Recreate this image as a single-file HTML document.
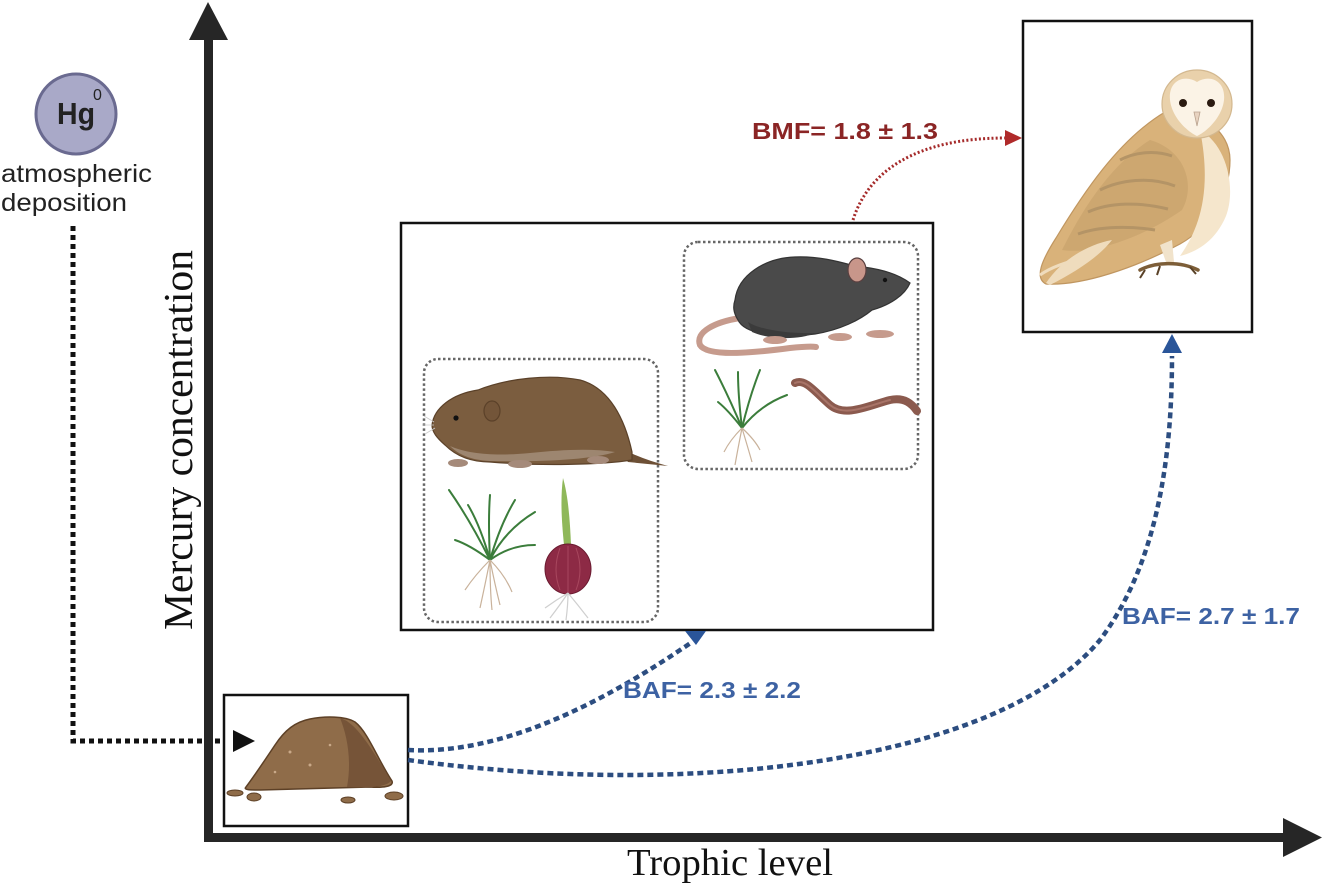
<!DOCTYPE html>
<html>
<head>
<meta charset="utf-8">
<style>
  html,body{margin:0;padding:0;background:#fff;}
  svg{display:block;}
</style>
</head>
<body>
<svg width="1324" height="886" viewBox="0 0 1324 886" xmlns="http://www.w3.org/2000/svg">
  <rect x="0" y="0" width="1324" height="886" fill="#ffffff"/>

  <!-- Hg circle -->
  <circle cx="76" cy="114" r="40" fill="#a9a9c8" stroke="#6a6a90" stroke-width="3"/>
  <text x="57" y="124" font-family="Liberation Sans, sans-serif" font-weight="bold" font-size="31" fill="#222" textLength="38" lengthAdjust="spacingAndGlyphs">Hg</text>
  <text x="93" y="100" font-family="Liberation Sans, sans-serif" font-size="16" fill="#222">0</text>
  <text x="1" y="182" font-family="Liberation Sans, sans-serif" font-size="25" fill="#222" textLength="151" lengthAdjust="spacingAndGlyphs">atmospheric</text>
  <text x="1" y="211" font-family="Liberation Sans, sans-serif" font-size="25" fill="#222" textLength="126" lengthAdjust="spacingAndGlyphs">deposition</text>

  <!-- black dotted connector -->
  <path d="M73,226 L73,741 L230,741" fill="none" stroke="#111" stroke-width="5" stroke-dasharray="5 4"/>

  <!-- Axes -->
  <line x1="208.5" y1="38" x2="208.5" y2="842" stroke="#262626" stroke-width="9"/>
  <polygon points="208,2 189,40 228,40" fill="#262626"/>
  <line x1="204" y1="837.5" x2="1286" y2="837.5" stroke="#262626" stroke-width="9"/>
  <polygon points="1283,818 1283,857 1322,837.5" fill="#262626"/>

  <!-- axis labels -->
  <text transform="translate(192,440) rotate(-90)" text-anchor="middle" font-family="Liberation Serif, serif" font-size="41" fill="#111" textLength="380" lengthAdjust="spacingAndGlyphs">Mercury concentration</text>
  <text x="627" y="875" font-family="Liberation Serif, serif" font-size="38" fill="#111" textLength="206" lengthAdjust="spacingAndGlyphs">Trophic level</text>

  <!-- Soil box -->
  <rect x="224" y="695" width="184" height="131" fill="#fff" stroke="#111" stroke-width="2.5"/>
  <polygon points="233,730 233,752 255,741" fill="#111"/>
  <!-- soil pile -->
  <path d="M246,787 C255,775 265,760 275,745 C285,730 295,722 310,719 C325,716 345,716 355,722 C368,732 378,760 392,781 C394,786 385,788 370,787 L260,790 C250,790 243,790 246,787 Z" fill="#8f6c49" stroke="#5d4026" stroke-width="1.5"/>
  <path d="M340,718 C355,722 370,745 391,781 C386,787 370,788 347,787 C352,760 347,735 340,718 Z" fill="#765438"/>
  <circle cx="290" cy="752" r="1.5" fill="#c9a989"/>
  <circle cx="310" cy="765" r="1.5" fill="#c9a989"/>
  <circle cx="275" cy="772" r="1.3" fill="#c9a989"/>
  <circle cx="330" cy="745" r="1.3" fill="#c9a989"/>
  <ellipse cx="235" cy="793" rx="8" ry="3" fill="#8f6c49" stroke="#5d4026" stroke-width="1"/>
  <ellipse cx="254" cy="797" rx="7" ry="4" fill="#8f6c49" stroke="#5d4026" stroke-width="1"/>
  <ellipse cx="348" cy="800" rx="7" ry="3" fill="#8f6c49" stroke="#5d4026" stroke-width="1"/>
  <ellipse cx="394" cy="796" rx="9" ry="4" fill="#8f6c49" stroke="#5d4026" stroke-width="1"/>

  <!-- Middle box -->
  <rect x="401" y="223" width="532" height="407" fill="#fff" stroke="#111" stroke-width="2.5"/>
  <rect x="424" y="359" width="234" height="263" rx="14" fill="none" stroke="#666" stroke-width="2.5" stroke-dasharray="2.5 2.5"/>
  <rect x="684" y="242" width="234" height="227" rx="14" fill="none" stroke="#666" stroke-width="2.5" stroke-dasharray="2.5 2.5"/>

  <!-- Vole -->
  <path d="M608,440 C625,452 645,460 668,466 L628,462 Z" fill="#6d5036"/>
  <path d="M432,425 C434,408 452,394 478,390 C508,378 550,374 580,380 C610,388 625,420 632,452 L632,460 C600,465 540,466 490,462 C470,462 455,455 445,445 C437,438 432,432 432,425 Z" fill="#7b5d3f" stroke="#5b4129" stroke-width="1.2"/>
  <path d="M450,446 C470,455 500,456 530,453 C560,450 590,448 615,452 C590,460 540,462 490,461 C470,460 458,454 450,446 Z" fill="#9d8670"/>
  <ellipse cx="492" cy="411" rx="8" ry="10" fill="#735539" stroke="#5b4129" stroke-width="1.2"/>
  <circle cx="456" cy="418" r="2.6" fill="#111"/>
  <ellipse cx="458" cy="463" rx="10" ry="4" fill="#a58a7a"/>
  <ellipse cx="520" cy="464" rx="12" ry="4" fill="#a58a7a"/>
  <ellipse cx="598" cy="460" rx="11" ry="4" fill="#a58a7a"/>
  <path d="M434,422 L424,416 M434,425 L423,425 M435,428 L425,434" stroke="#ccc" stroke-width="0.8"/>

  <!-- Left grass -->
  <g fill="none" stroke="#3b7d3b" stroke-width="2" stroke-linecap="round">
    <path d="M490,560 Q470,520 449,490"/>
    <path d="M490,560 Q480,525 468,505"/>
    <path d="M490,560 Q488,520 490,495"/>
    <path d="M490,560 Q500,525 515,500"/>
    <path d="M490,560 Q505,530 535,512"/>
    <path d="M490,560 Q510,545 535,545"/>
    <path d="M490,560 Q470,545 455,540"/>
  </g>
  <g fill="none" stroke="#c9b29b" stroke-width="1.2">
    <path d="M490,560 Q485,585 480,608"/>
    <path d="M490,560 Q495,585 500,605"/>
    <path d="M490,560 Q475,575 465,590"/>
    <path d="M490,560 Q505,575 512,592"/>
    <path d="M490,560 Q490,590 492,610"/>
  </g>
  <!-- Onion -->
  <path d="M563,478 C560,500 562,525 564,545 L571,545 C570,520 568,495 563,478 Z" fill="#8fb85a"/>
  <ellipse cx="568" cy="569" rx="23" ry="25" fill="#8d2a45" stroke="#6a1a30" stroke-width="1"/>
  <path d="M560,548 Q552,570 560,590 M576,548 Q584,570 576,590 M568,546 L568,593" stroke="#a8475e" stroke-width="1" fill="none"/>
  <g fill="none" stroke="#cfcfcf" stroke-width="1.2">
    <path d="M568,593 Q560,605 550,618"/>
    <path d="M568,593 Q568,605 566,620"/>
    <path d="M568,593 Q578,605 588,618"/>
    <path d="M568,593 Q556,600 545,608"/>
  </g>

  <!-- Mouse -->
  <path d="M740,318 C715,322 695,332 700,345 C708,358 760,352 790,348 C800,347 810,346 816,347" fill="none" stroke="#c69b8d" stroke-width="6" stroke-linecap="round"/>
  <path d="M735,300 C738,275 765,258 795,257 C820,256 840,262 855,266 C875,268 895,272 910,283 C905,295 890,305 872,310 C860,320 840,330 815,334 C780,338 745,335 738,320 C733,312 733,306 735,300 Z" fill="#4a4a4a" stroke="#333" stroke-width="1.2"/>
  <path d="M748,322 C760,330 790,334 815,333 C800,340 770,340 752,332 Z" fill="#3b3b3b"/>
  <ellipse cx="857" cy="270" rx="9" ry="12" fill="#c8968a" stroke="#5a4040" stroke-width="1.2"/>
  <circle cx="885" cy="280" r="2.2" fill="#111"/>
  <ellipse cx="880" cy="334" rx="14" ry="4" fill="#c69b8d"/>
  <ellipse cx="840" cy="337" rx="12" ry="4" fill="#c69b8d"/>
  <ellipse cx="775" cy="340" rx="12" ry="4" fill="#c69b8d"/>
  <!-- Right grass -->
  <g fill="none" stroke="#3b7d3b" stroke-width="2" stroke-linecap="round">
    <path d="M742,428 Q728,395 715,370"/>
    <path d="M742,428 Q738,395 738,372"/>
    <path d="M742,428 Q750,395 760,370"/>
    <path d="M742,428 Q760,405 787,395"/>
    <path d="M742,428 Q728,410 718,402"/>
  </g>
  <g fill="none" stroke="#c9b29b" stroke-width="1.2">
    <path d="M742,428 Q738,448 735,465"/>
    <path d="M742,428 Q748,448 752,462"/>
    <path d="M742,428 Q730,440 724,452"/>
    <path d="M742,428 Q755,440 760,450"/>
  </g>
  <!-- Worm -->
  <path d="M795,383 C805,378 815,392 830,405 C845,418 870,405 890,400 C905,397 912,404 917,411" fill="none" stroke="#8b5a4e" stroke-width="8" stroke-linecap="round"/>
  <path d="M795,383 C805,378 815,392 830,405 C845,418 870,405 890,400" fill="none" stroke="#a87468" stroke-width="2" stroke-linecap="round"/>

  <!-- Owl box -->
  <rect x="1023" y="21" width="229" height="311" fill="#fff" stroke="#111" stroke-width="2.5"/>
  <!-- owl body -->
  <path d="M1165,112 C1118,140 1082,195 1056,238 C1042,260 1034,278 1046,284 C1082,286 1135,268 1180,244 C1212,226 1230,192 1230,160 C1230,130 1200,110 1165,112 Z" fill="#d9b27a" stroke="#c09660" stroke-width="1.2"/>
  <path d="M1150,140 C1110,165 1082,210 1062,250 C1095,255 1145,236 1182,210 C1196,185 1185,150 1150,140 Z" fill="#c9a46e" opacity="0.8"/>
  <path d="M1046,283 C1060,262 1085,245 1112,240 C1098,258 1075,272 1050,285 Z" fill="#efdcbd"/>
  <path d="M1040,275 C1050,268 1065,262 1085,258" fill="none" stroke="#efdcbd" stroke-width="3"/>
  <path d="M1100,190 C1120,180 1150,176 1175,186 M1088,212 C1110,202 1140,202 1168,209 M1078,234 C1100,226 1130,226 1155,230 M1120,160 C1135,152 1155,150 1172,156" fill="none" stroke="#b49466" stroke-width="3"/>
  <path d="M1200,130 C1228,146 1236,190 1226,216 C1215,242 1196,252 1180,256 C1200,228 1212,190 1200,130 Z" fill="#f5e6cc"/>
  <path d="M1160,245 L1166,262 L1174,262 L1172,240 Z" fill="#f1e3cb"/>
  <path d="M1140,270 C1155,262 1180,261 1198,270" fill="none" stroke="#7d5e38" stroke-width="3.5" stroke-linecap="round"/>
  <path d="M1145,270 L1140,278 M1160,266 L1157,275 M1190,267 L1196,274" stroke="#5a4228" stroke-width="2"/>
  <!-- owl head -->
  <ellipse cx="1197" cy="104" rx="35" ry="34" fill="#e9d1ab" stroke="#d3b88f" stroke-width="1.2"/>
  <path d="M1197,82 C1185,74 1168,80 1170,100 C1172,118 1188,132 1197,136 C1206,132 1222,118 1224,100 C1226,80 1209,74 1197,82 Z" fill="#fbf3e6"/>
  <circle cx="1183" cy="103" r="4" fill="#2a1a10"/>
  <circle cx="1211" cy="103" r="4" fill="#2a1a10"/>
  <path d="M1194,112 L1197,126 L1200,112 Z" fill="#e8d3c0" stroke="#b9a28e" stroke-width="0.8"/>

  <!-- BMF connector -->
  <path d="M853,220 C868,172 915,138 1005,138" fill="none" stroke="#a52a2a" stroke-width="3" stroke-dasharray="2 2.2"/>
  <polygon points="1005,130 1005,146 1022,138" fill="#b02a2a"/>
  <text x="752" y="139" font-family="Liberation Sans, sans-serif" font-weight="bold" font-size="23" fill="#8b2525" textLength="186" lengthAdjust="spacingAndGlyphs">BMF= 1.8 ± 1.3</text>

  <!-- BAF 2.3 connector -->
  <path d="M408,750 C500,755 600,705 692,642" fill="none" stroke="#2c4d80" stroke-width="4.5" stroke-dasharray="6 4"/>
  <polygon points="685,631 706,631 696,645" fill="#2a5599"/>
  <text x="623" y="698" font-family="Liberation Sans, sans-serif" font-weight="bold" font-size="23" fill="#3d62a3" textLength="178" lengthAdjust="spacingAndGlyphs">BAF= 2.3 ± 2.2</text>

  <!-- BAF 2.7 connector -->
  <path d="M408,760 C700,800 1000,760 1100,640 C1160,560 1172,450 1172,356" fill="none" stroke="#2c4d80" stroke-width="4.5" stroke-dasharray="6 4"/>
  <polygon points="1172,334 1162,353 1182,353" fill="#2a5599"/>
  <text x="1122" y="624" font-family="Liberation Sans, sans-serif" font-weight="bold" font-size="23" fill="#3d62a3" textLength="178" lengthAdjust="spacingAndGlyphs">BAF= 2.7 ± 1.7</text>
</svg>
</body>
</html>
